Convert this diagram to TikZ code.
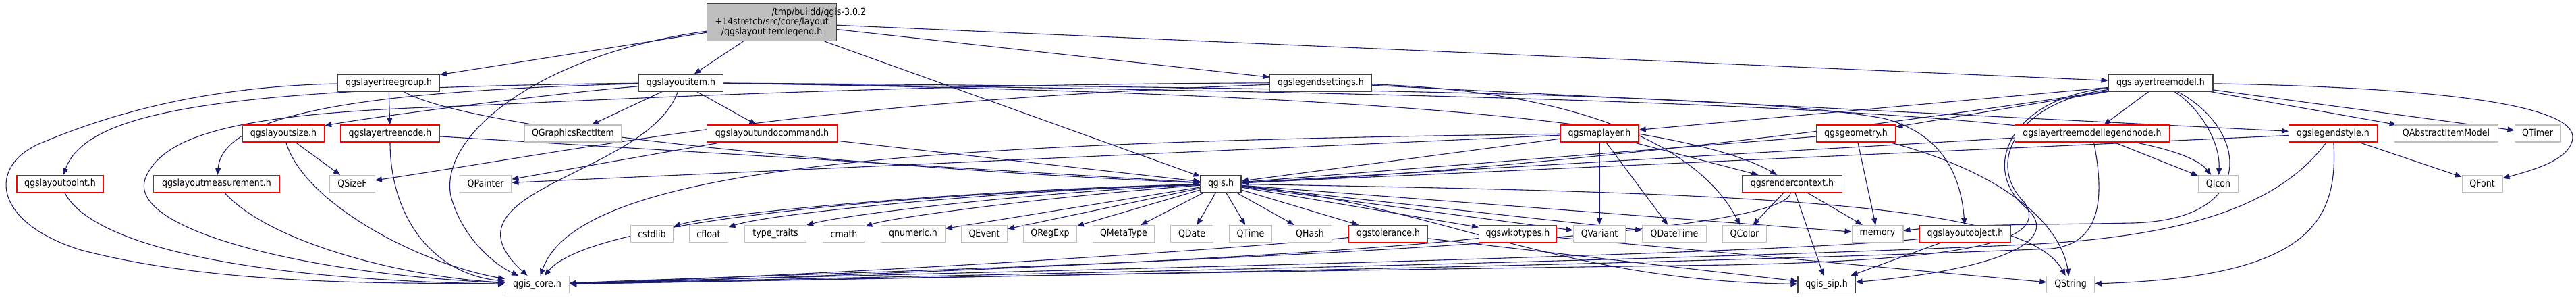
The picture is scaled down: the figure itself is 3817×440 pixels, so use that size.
\documentclass[tikz,border=0pt]{standalone}
\usepackage{fontspec}
\setmainfont{DejaVu Sans Condensed}
\usetikzlibrary{arrows.meta,backgrounds}
\definecolor{edgeblue}{RGB}{25,25,112}
\definecolor{nodegray}{RGB}{191,191,191}
\definecolor{nodered}{RGB}{255,0,0}
\definecolor{nodedark}{RGB}{64,64,64}
\newlength\mainlw
\tikzset{
  nbox/.style={draw, rectangle, line width=1.2pt, minimum height=25pt, inner sep=0pt, fill=white, text=black, font=\fontsize{14}{16}\selectfont},
  gnode/.style={nbox, draw=nodegray, minimum width=#1pt},
  rnode/.style={nbox, draw=nodered, minimum width=#1pt},
  knode/.style={nbox, draw=nodedark, minimum width=#1pt},
  dep/.style={draw=edgeblue, line width=1.1pt, -{Triangle[length=10pt,width=8pt]}},
}
\begin{document}
\begin{tikzpicture}[x=1pt,y=-1pt]
\useasboundingbox (0,0) rectangle (3817,440);
\settowidth{\mainlw}{\fontsize{14}{14.7}\selectfont +14stretch/src/core/layout}
% row 0
\node[knode=192, minimum height=55pt, fill=nodegray, align=center, font=\fontsize{14}{14.7}\selectfont] (main) at (1143.6,33) {\makebox[\mainlw][l]{/tmp/buildd/qgis-3.0.2}\\+14stretch/src/core/layout\\/qgslayoutitemlegend.h};
% row 1
\node[knode=151] (lgroup) at (576,122.5) {qgslayertreegroup.h};
\node[knode=125.5] (litem) at (1009,122.5) {qgslayoutitem.h};
\node[knode=150.5] (lsettings) at (1957,122.5) {qgslegendsettings.h};
\node[knode=155] (ltmodel) at (3201.5,122.5) {qgslayertreemodel.h};
% row 2
\node[rnode=121] (lsize) at (420,197.5) {qgslayoutsize.h};
\node[rnode=146.5] (lnode) at (578,197.5) {qgslayertreenode.h};
\node[gnode=144] (qgrect) at (849,197.5) {QGraphicsRectItem};
\node[rnode=193] (lundo) at (1144,197.5) {qgslayoutundocommand.h};
\node[rnode=116] (maplayer) at (2370,197.5) {qgsmaplayer.h};
\node[rnode=117.5] (geometry) at (2750,197.5) {qgsgeometry.h};
\node[rnode=229.4] (legnode) at (3100,197.5) {qgslayertreemodellegendnode.h};
\node[rnode=131] (legstyle) at (3457,197.5) {qgslegendstyle.h};
\node[gnode=153.6] (qaim) at (3624.5,197.5) {QAbstractItemModel};
\node[gnode=67.8] (qtimer) at (3760,197.5) {QTimer};
% row 3
\node[rnode=128] (lpoint) at (89,272) {qgslayoutpoint.h};
\node[rnode=186.5] (lmeas) at (321,272) {qgslayoutmeasurement.h};
\node[gnode=66.5] (qsizef) at (522,272) {QSizeF};
\node[gnode=76.6] (qpainter) at (719.6,272) {QPainter};
\node[knode=60] (qgis) at (1809,272) {qgis.h};
\node[rnode=147.3] (rctx) at (2655.5,272) {qgsrendercontext.h};
\node[gnode=59] (qicon) at (3287,272) {QIcon};
\node[gnode=59.8] (qfont) at (3678,272) {QFont};
% row 4
\node[gnode=63] (cstdlib) at (966,346) {cstdlib};
\node[gnode=57.7] (cfloat) at (1050,346) {cfloat};
\node[gnode=91] (typetraits) at (1149,346) {type\_traits};
\node[gnode=62.7] (cmath) at (1250.5,346) {cmath};
\node[gnode=94.7] (qnumeric) at (1353,346) {qnumeric.h};
\node[gnode=68] (qevent) at (1458.5,346) {QEvent};
\node[gnode=78.7] (qregexp) at (1556,346) {QRegExp};
\node[gnode=91.8] (qmetatype) at (1665,346) {QMetaType};
\node[gnode=62.7] (qdate) at (1766,346) {QDate};
\node[gnode=62.7] (qtime) at (1853,346) {QTime};
\node[gnode=65.5] (qhash) at (1941,346) {QHash};
\node[rnode=117] (tolerance) at (2057,346) {qgstolerance.h};
\node[rnode=115] (wkb) at (2249,346) {qgswkbtypes.h};
\node[gnode=77.4] (qvariant) at (2370,346) {QVariant};
\node[gnode=94.7] (qdatetime) at (2481,346) {QDateTime};
\node[gnode=64.6] (qcolor) at (2585,346) {QColor};
\node[gnode=75.8] (memory) at (2782,346) {memory};
\node[rnode=134.3] (lobject) at (2912,346) {qgslayoutobject.h};
% row 5
\node[gnode=94.7] (core) at (796,421) {qgis\_core.h};
\node[knode=85] (sip) at (2706.5,421) {qgis\_sip.h};
\node[gnode=70.3] (qstring) at (3068,421) {QString};

\begin{pgfonlayer}{background}
\fill[white] (0,0) rectangle (3817,440);
% main
\draw[dep] (main) -- (lgroup);
\draw[dep] (main) -- (litem);
\draw[dep] (main) -- (lsettings);
\draw[dep] (main) -- (ltmodel);
\draw[dep] (main) -- (qgis);
\draw[dep] (main) .. controls (800,80) and (650,200) .. (668,290) .. controls (684,350) and (730,390) .. (core);
% lgroup
\draw[dep] (lgroup) -- (lnode);
\draw[dep] (lgroup) .. controls (300,128) and (160,170) .. (60,212) .. controls (-20,246) and (-10,330) .. (120,370) .. controls (330,425) and (600,418) .. (core);
\draw[dep] (lgroup) .. controls (700,195) and (1300,250) .. (qgis);
% lnode
\draw[dep] (lnode) .. controls (578,320) and (640,405) .. (core);
\draw[dep] (lnode) -- (qgis);
% litem
\draw[dep] (litem) .. controls (800,140) and (540,175) .. (lsize);
\draw[dep] (litem) .. controls (350,130) and (130,160) .. (lpoint);
\draw[dep] (litem) .. controls (500,135) and (330,175) .. (lmeas);
\draw[dep] (litem) .. controls (960,260) and (640,280) .. (core);
\draw[dep] (litem) -- (qgrect);
\draw[dep] (litem) -- (lundo);
\draw[dep] (litem) .. controls (2000,130) and (2600,140) .. (2790,175) .. controls (2870,195) and (2905,250) .. (lobject);
\draw[dep] (litem) .. controls (1900,135) and (2480,170) .. (rctx);
\draw[dep] (litem) .. controls (2400,140) and (3200,165) .. (qicon);
% lsettings
\draw[dep] (lsettings) .. controls (1300,125) and (850,150) .. (660,158) .. controls (350,168) and (240,200) .. (215,265) .. controls (190,340) and (450,405) .. (core);
\draw[dep] (lsettings) .. controls (1200,150) and (900,215) .. (qsizef);
\draw[dep] (lsettings) .. controls (2350,135) and (2520,220) .. (qcolor);
\draw[dep] (lsettings) -- (legstyle);
% lsize, lpoint, lmeas
\draw[dep] (lsize) -- (qsizef);
\draw[dep] (lsize) .. controls (450,300) and (620,390) .. (core);
\draw[dep] (lpoint) .. controls (140,370) and (400,415) .. (core);
\draw[dep] (lmeas) .. controls (400,360) and (600,410) .. (core);
% lundo
\draw[dep] (lundo) -- (qpainter);
\draw[dep] (lundo) -- (qgis);
% maplayer
\draw[dep] (maplayer) -- (qvariant);
\draw[dep] (maplayer) -- (qdatetime);
\draw[dep] (maplayer) -- (rctx);
\draw[dep] (maplayer) -- (qgis);
\draw[dep] (maplayer) -- (qpainter);
\draw[dep] (maplayer) .. controls (1400,210) and (860,240) .. (core);
% geometry
\draw[dep] (geometry) -- (memory);
\draw[dep] (geometry) .. controls (2950,250) and (3050,320) .. (qstring);
\draw[dep] (geometry) -- (qgis);
% legnode
\draw[dep] (legnode) -- (qicon);
\draw[dep] (legnode) -- (qgis);
\draw[dep] (legnode) .. controls (3120,300) and (3110,360) .. (3040,368) .. controls (2400,395) and (1100,416) .. (core);
% legstyle
\draw[dep] (legstyle) -- (qfont);
\draw[dep] (legstyle) .. controls (3465,330) and (3420,410) .. (qstring);
\draw[dep] (legstyle) -- (qgis);
\draw[dep] (legstyle) .. controls (3380,300) and (3250,350) .. (3000,362) .. controls (2400,390) and (1100,414) .. (core);
% ltmodel
\draw[dep] (ltmodel) -- (legnode);
\draw[dep] (ltmodel) -- (geometry);
\draw[dep] (ltmodel) -- (maplayer);
\draw[dep] (ltmodel) .. controls (3260,160) and (3290,210) .. (qicon);
\draw[dep] (ltmodel) -- (qaim);
\draw[dep] (ltmodel) -- (qtimer);
\draw[dep] (ltmodel) .. controls (3650,130) and (3817,160) .. (3812,205) .. controls (3808,235) and (3760,250) .. (qfont);
\draw[dep] (ltmodel) .. controls (3330,190) and (3350,325) .. (3160,330) .. controls (3000,333) and (2900,332) .. (memory);
\draw[dep] (ltmodel) .. controls (2990,150) and (2940,240) .. (3000,300) .. controls (3040,360) and (2900,385) .. (2560,392) .. controls (1600,405) and (1000,418) .. (core);
\draw[dep] (ltmodel) .. controls (2980,145) and (2930,250) .. (3005,310) .. controls (3065,370) and (2900,405) .. (sip);
\draw[dep] (ltmodel) .. controls (2700,200) and (2200,255) .. (qgis);
% rctx
\draw[dep] (rctx) -- (qcolor);
\draw[dep] (rctx) -- (memory);
\draw[dep] (rctx) -- (sip);
\draw[dep] (rctx) .. controls (2640,370) and (1300,400) .. (core);
% lobject
\draw[dep] (lobject) -- (sip);
\draw[dep] (lobject) .. controls (2600,380) and (1300,405) .. (core);
% tolerance, wkb
\draw[dep] (tolerance) -- (sip);
\draw[dep] (tolerance) .. controls (1700,380) and (1100,412) .. (core);
\draw[dep] (wkb) -- (qstring);
\draw[dep] (wkb) .. controls (1900,385) and (1100,414) .. (core);
% qgis
\draw[dep] (qgis) .. controls (1450,280) and (1060,315) .. (cstdlib);
\draw[dep] (qgis) .. controls (1480,282) and (1140,316) .. (cfloat);
\draw[dep] (qgis) .. controls (1520,285) and (1250,318) .. (typetraits);
\draw[dep] (qgis) .. controls (1560,290) and (1320,322) .. (cmath);
\draw[dep] (qgis) -- (qnumeric);
\draw[dep] (qgis) -- (qevent);
\draw[dep] (qgis) -- (qregexp);
\draw[dep] (qgis) -- (qmetatype);
\draw[dep] (qgis) -- (qdate);
\draw[dep] (qgis) -- (qtime);
\draw[dep] (qgis) -- (qhash);
\draw[dep] (qgis) -- (tolerance);
\draw[dep] (qgis) -- (wkb);
\draw[dep] (qgis) -- (qvariant);
\draw[dep] (qgis) -- (qdatetime);
\draw[dep] (qgis) -- (memory);
\draw[dep] (qgis) .. controls (2600,285) and (3000,300) .. (qstring);
\draw[dep] (qgis) .. controls (2120,300) and (2300,415) .. (sip);
\draw[dep] (qgis) .. controls (1400,285) and (880,320) .. (core);
\end{pgfonlayer}
\end{tikzpicture}
\end{document}
